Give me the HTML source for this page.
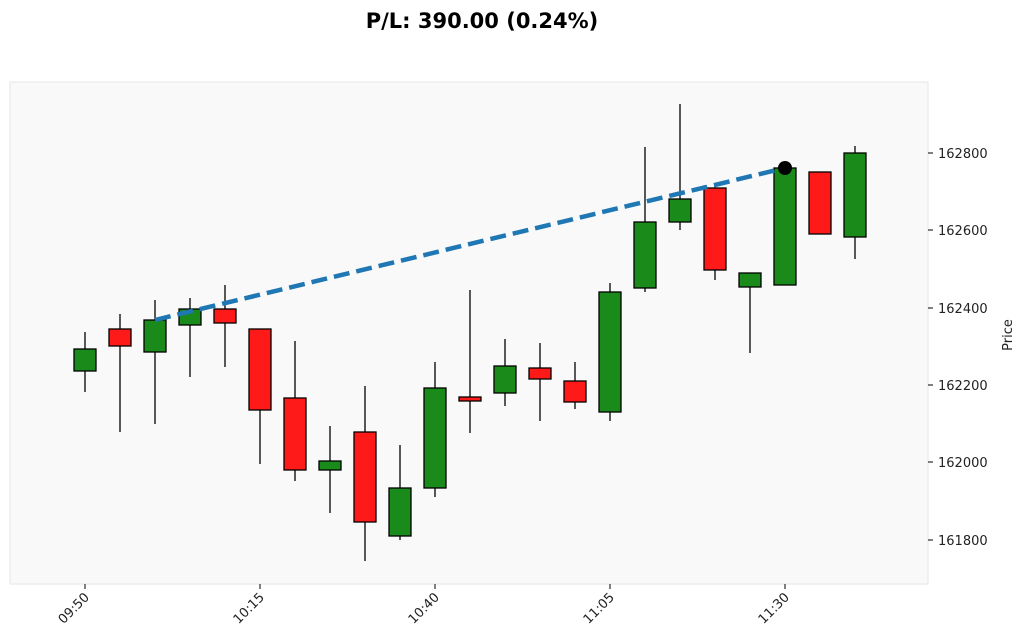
<!DOCTYPE html>
<html><head><meta charset="utf-8"><style>html,body{margin:0;padding:0;background:#fff}svg{display:block}</style></head>
<body>
<svg width="1024" height="644" xmlns="http://www.w3.org/2000/svg" font-family="DejaVu Sans, Liberation Sans, sans-serif">
<text x="482" y="28" text-anchor="middle" font-size="21" font-weight="bold">P/L: 390.00 (0.24%)</text>
<rect x="10" y="82" width="918" height="502" fill="#f9f9f9" stroke="#e6e6e6"/>
<g stroke="#000" stroke-width="1.3">
<line x1="85" y1="332" x2="85" y2="392"/><rect x="74" y="349" width="22" height="22" fill="#1a8a1a"/>
<line x1="120" y1="314" x2="120" y2="432"/><rect x="109" y="329" width="22" height="17" fill="#ff1a1a"/>
<line x1="155" y1="300" x2="155" y2="424"/><rect x="144" y="320" width="22" height="32" fill="#1a8a1a"/>
<line x1="190" y1="298" x2="190" y2="377"/><rect x="179" y="309" width="22" height="16" fill="#1a8a1a"/>
<line x1="225" y1="285" x2="225" y2="367"/><rect x="214" y="309" width="22" height="14" fill="#ff1a1a"/>
<line x1="260" y1="329" x2="260" y2="464"/><rect x="249" y="329" width="22" height="81" fill="#ff1a1a"/>
<line x1="295" y1="341" x2="295" y2="481"/><rect x="284" y="398" width="22" height="72" fill="#ff1a1a"/>
<line x1="330" y1="426" x2="330" y2="513"/><rect x="319" y="461" width="22" height="9" fill="#1a8a1a"/>
<line x1="365" y1="386" x2="365" y2="561"/><rect x="354" y="432" width="22" height="90" fill="#ff1a1a"/>
<line x1="400" y1="445" x2="400" y2="540"/><rect x="389" y="488" width="22" height="48" fill="#1a8a1a"/>
<line x1="435" y1="362" x2="435" y2="497"/><rect x="424" y="388" width="22" height="100" fill="#1a8a1a"/>
<line x1="470" y1="290" x2="470" y2="433"/><rect x="459" y="397" width="22" height="4" fill="#ff1a1a"/>
<line x1="505" y1="339" x2="505" y2="406"/><rect x="494" y="366" width="22" height="27" fill="#1a8a1a"/>
<line x1="540" y1="343" x2="540" y2="421"/><rect x="529" y="368" width="22" height="11" fill="#ff1a1a"/>
<line x1="575" y1="362" x2="575" y2="409"/><rect x="564" y="381" width="22" height="21" fill="#ff1a1a"/>
<line x1="610" y1="283" x2="610" y2="421"/><rect x="599" y="292" width="22" height="120" fill="#1a8a1a"/>
<line x1="645" y1="147" x2="645" y2="292"/><rect x="634" y="222" width="22" height="66" fill="#1a8a1a"/>
<line x1="680" y1="104" x2="680" y2="230"/><rect x="669" y="199" width="22" height="23" fill="#1a8a1a"/>
<line x1="715" y1="185" x2="715" y2="280"/><rect x="704" y="188" width="22" height="82" fill="#ff1a1a"/>
<line x1="750" y1="273" x2="750" y2="353"/><rect x="739" y="273" width="22" height="14" fill="#1a8a1a"/>
<line x1="785" y1="168" x2="785" y2="285"/><rect x="774" y="168" width="22" height="117" fill="#1a8a1a"/>
<rect x="809" y="172" width="22" height="62" fill="#ff1a1a"/>
<line x1="855" y1="146" x2="855" y2="259"/><rect x="844" y="153" width="22" height="84" fill="#1a8a1a"/>
</g>
<line x1="155" y1="320" x2="785" y2="168" stroke="#1f77b4" stroke-width="4.5" stroke-dasharray="16,7"/>
<circle cx="785" cy="168" r="7" fill="#000"/>
<g font-size="13" fill="#222">
<g stroke="#000"><line x1="928" y1="153" x2="933" y2="153"/><line x1="928" y1="230" x2="933" y2="230"/><line x1="928" y1="308" x2="933" y2="308"/><line x1="928" y1="385" x2="933" y2="385"/><line x1="928" y1="462" x2="933" y2="462"/><line x1="928" y1="540" x2="933" y2="540"/></g>
<text x="938" y="158">162800</text><text x="938" y="235">162600</text><text x="938" y="313">162400</text><text x="938" y="390">162200</text><text x="938" y="467">162000</text><text x="938" y="545">161800</text>
<text transform="translate(1012,335) rotate(-90)" text-anchor="middle">Price</text>
<g stroke="#000"><line x1="85" y1="584" x2="85" y2="589"/><line x1="260" y1="584" x2="260" y2="589"/><line x1="435" y1="584" x2="435" y2="589"/><line x1="610" y1="584" x2="610" y2="589"/><line x1="785" y1="584" x2="785" y2="589"/></g>
<text transform="translate(90,598) rotate(-45)" text-anchor="end">09:50</text>
<text transform="translate(265,598) rotate(-45)" text-anchor="end">10:15</text>
<text transform="translate(440,598) rotate(-45)" text-anchor="end">10:40</text>
<text transform="translate(615,598) rotate(-45)" text-anchor="end">11:05</text>
<text transform="translate(790,598) rotate(-45)" text-anchor="end">11:30</text>
</g>
</svg>
</body></html>
